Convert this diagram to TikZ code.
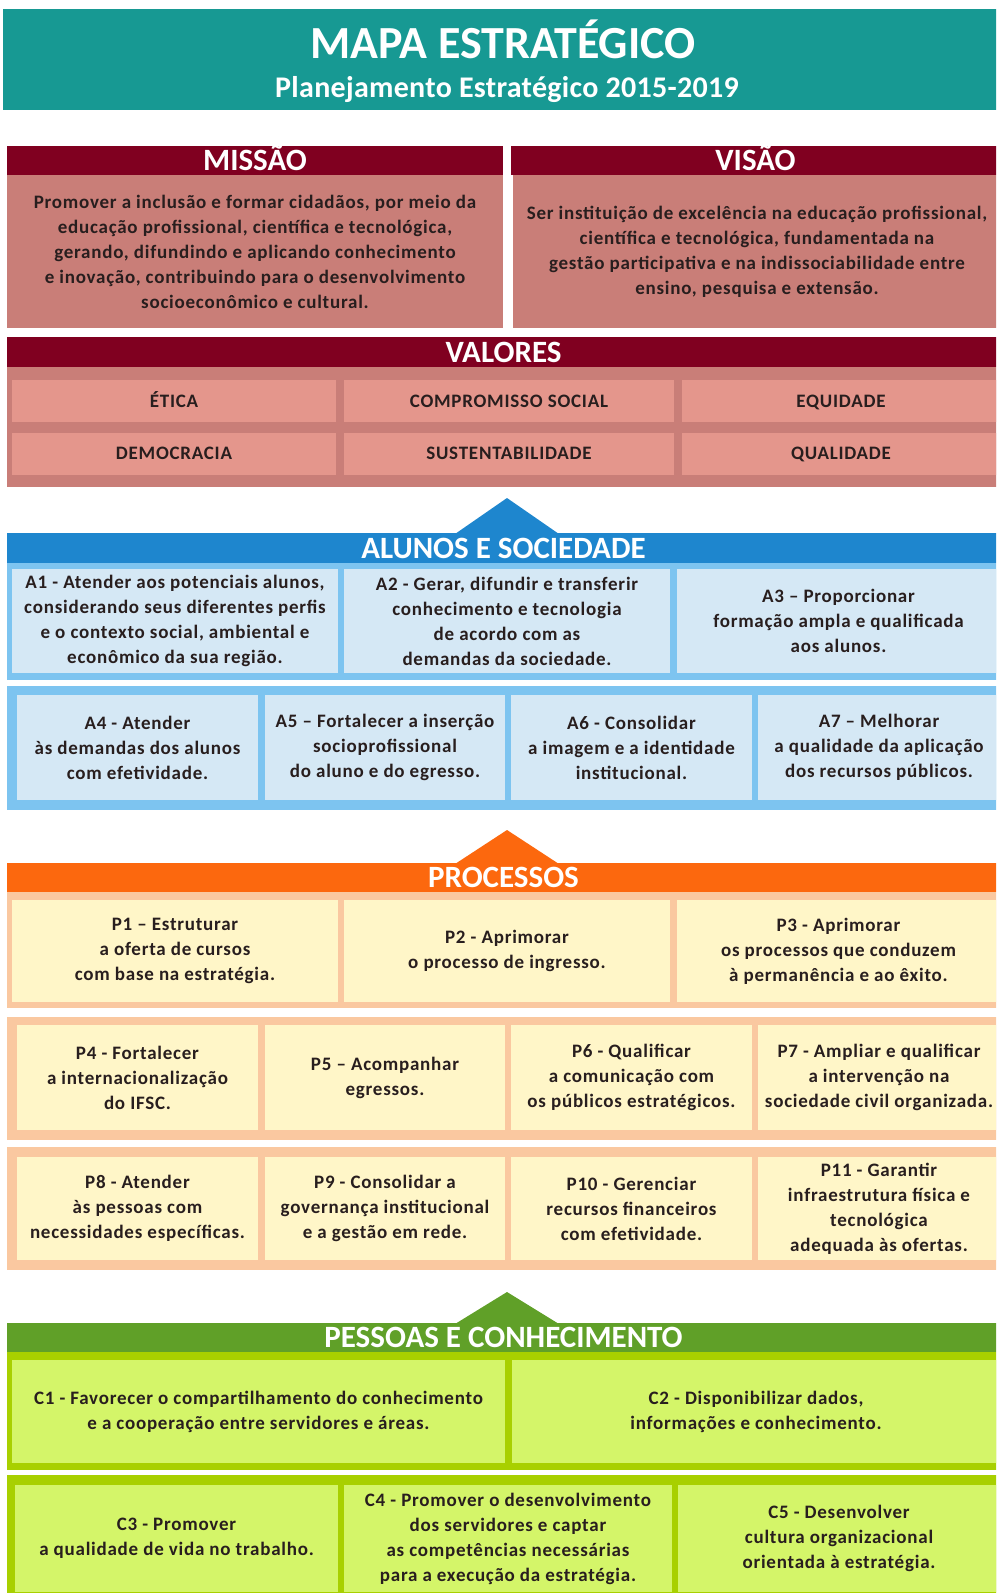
\documentclass[tikz,border=0pt]{standalone}
\usepackage{fontspec}
\setmainfont{Carlito}
\usetikzlibrary{calc}

\definecolor{teal}{RGB}{23,153,147}
\definecolor{wine}{RGB}{128,0,32}
\definecolor{rose}{RGB}{201,126,120}
\definecolor{salmon}{RGB}{228,150,140}
\definecolor{bluebar}{RGB}{30,134,206}
\definecolor{sky}{RGB}{125,196,240}
\definecolor{ice}{RGB}{213,232,245}
\definecolor{orangebar}{RGB}{252,104,14}
\definecolor{peach}{RGB}{250,200,160}
\definecolor{cream}{RGB}{255,246,200}
\definecolor{greenbar}{RGB}{96,160,40}
\definecolor{lime}{RGB}{168,208,0}
\definecolor{limecell}{RGB}{212,245,105}
\definecolor{ink}{RGB}{40,30,30}

\newcommand{\BodyFont}{\fontsize{19}{25}\selectfont\bfseries\addfontfeature{LetterSpace=4}}
\newcommand{\HeadFont}{\fontsize{31}{34}\selectfont\bfseries}

\begin{document}
\begin{tikzpicture}[x=1pt, y=-1pt, every node/.style={inner sep=0pt, outer sep=0pt, align=center}]
    \tikzset{BoxSize/.style 2 args={minimum width=#1pt, minimum height=#2pt},
      BarStyle/.style={fill=#1, text=white, font=\HeadFont, text height=20pt, text depth=0pt},
      FrameStyle/.style={fill=#1},
      CellStyle/.style={fill=#1, text=ink, font=\BodyFont},
      ValueStyle/.style={CellStyle=salmon, text height=12.2pt, text depth=0pt}}
    \useasboundingbox (0,0) rectangle (996,1593);
    \clip (0,0) rectangle (996,1593);
    \fill[white] (0,0) rectangle (996,1593);

    % cabecalho
    \node[FrameStyle=teal, BoxSize={997}{101}] (head) at (501.5,59.5) {};
    \node[text=white, font=\fontsize{46}{50}\selectfont\bfseries] (title) at (503,39) {MAPA ESTRATÉGICO};
    \node[text=white, font=\fontsize{30}{34}\selectfont\bfseries\addfontfeature{LetterSpace=1}] (subtitle) at (507,90) {Planejamento Estratégico 2015-2019};

    % missao e visao
    \node[BarStyle=wine, BoxSize={496}{29}] (missao) at (255,160.5) {MISSÃO};
    \node[CellStyle=rose, BoxSize={496}{153}] (missaoTxt) at (255,251.5) {Promover a inclusão e formar cidadãos, por meio da\\educação profissional, científica e tecnológica,\\gerando, difundindo e aplicando conhecimento\\e inovação, contribuindo para o desenvolvimento\\socioeconômico e cultural.};
    \node[BarStyle=wine, BoxSize={489}{29}] (visao) at (755.5,160.5) {VISÃO};
    \node[CellStyle=rose, BoxSize={489}{153}] (visaoTxt) at (757,251.5) {Ser instituição de excelência na educação profissional,\\científica e tecnológica, fundamentada na\\gestão participativa e na indissociabilidade entre\\ensino, pesquisa e extensão.};

    % valores
    \node[BarStyle=wine, BoxSize={993}{30}] (valores) at (503.5,352) {VALORES};
    \node[FrameStyle=rose, BoxSize={993}{120}] (valFrame) at (503.5,427) {};
    \node[ValueStyle, BoxSize={324}{42}] (V1) at (174,401) {ÉTICA};
    \node[ValueStyle, BoxSize={330}{42}] (V2) at (509,401) {COMPROMISSO SOCIAL};
    \node[ValueStyle, BoxSize={318}{42}] (V3) at (841,401) {EQUIDADE};
    \node[ValueStyle, BoxSize={324}{42}] (V4) at (174,453.5) {DEMOCRACIA};
    \node[ValueStyle, BoxSize={330}{42}] (V5) at (509,453.5) {SUSTENTABILIDADE};
    \node[ValueStyle, BoxSize={318}{42}] (V6) at (841,453.5) {QUALIDADE};

    % alunos e sociedade
    \fill[bluebar] (507,498) -- (455,534) -- (559,534) -- cycle;
    \node[BarStyle=bluebar, BoxSize={993}{30}] (alunos) at (503.5,548) {ALUNOS E SOCIEDADE};
    \node[FrameStyle=sky, BoxSize={993}{117}] (aFrame1) at (503.5,621.5) {};
    \node[FrameStyle=sky, BoxSize={993}{124}] (aFrame2) at (503.5,748) {};
    \node[CellStyle=ice, BoxSize={326}{104}] (A1) at (175,621) {A1 - Atender aos potenciais alunos,\\considerando seus diferentes perfis\\e o contexto social, ambiental e\\econômico da sua região.};
    \node[CellStyle=ice, BoxSize={326}{104}] (A2) at (507,621) {A2 - Gerar, difundir e transferir\\conhecimento e tecnologia\\de acordo com as\\demandas da sociedade.};
    \node[CellStyle=ice, BoxSize={323}{104}] (A3) at (838.5,621) {A3 – Proporcionar\\formação ampla e qualificada\\aos alunos.};
    \node[CellStyle=ice, BoxSize={241}{105}] (A4) at (137.5,747.5) {A4 - Atender\\às demandas dos alunos\\com efetividade.};
    \node[CellStyle=ice, BoxSize={240}{105}] (A5) at (385,747.5) {A5 – Fortalecer a inserção\\socioprofissional\\do aluno e do egresso.};
    \node[CellStyle=ice, BoxSize={241}{105}] (A6) at (631.5,747.5) {A6 - Consolidar\\a imagem e a identidade\\institucional.};
    \node[CellStyle=ice, BoxSize={242}{105}] (A7) at (879,747.5) {A7 – Melhorar\\a qualidade da aplicação\\dos recursos públicos.};

    % processos
    \fill[orangebar] (507,830) -- (455,864) -- (559,864) -- cycle;
    \node[BarStyle=orangebar, BoxSize={993}{29}] (processos) at (503.5,877.5) {PROCESSOS};
    \node[FrameStyle=peach, BoxSize={993}{116}] (pFrame1) at (503.5,950) {};
    \node[FrameStyle=peach, BoxSize={993}{123}] (pFrame2) at (503.5,1078.5) {};
    \node[FrameStyle=peach, BoxSize={993}{123}] (pFrame3) at (503.5,1208.5) {};
    \node[CellStyle=cream, BoxSize={326}{102}] (P1) at (175,951) {P1 – Estruturar\\a oferta de cursos\\com base na estratégia.};
    \node[CellStyle=cream, BoxSize={326}{102}] (P2) at (507,951) {P2 - Aprimorar\\o processo de ingresso.};
    \node[CellStyle=cream, BoxSize={323}{102}] (P3) at (838.5,951) {P3 - Aprimorar\\os processos que conduzem\\à permanência e ao êxito.};
    \node[CellStyle=cream, BoxSize={241}{105}] (P4) at (137.5,1077.5) {P4 - Fortalecer\\a internacionalização\\do IFSC.};
    \node[CellStyle=cream, BoxSize={240}{105}] (P5) at (385,1077.5) {P5 – Acompanhar\\egressos.};
    \node[CellStyle=cream, BoxSize={241}{105}] (P6) at (631.5,1077.5) {P6 - Qualificar\\a comunicação com\\os públicos estratégicos.};
    \node[CellStyle=cream, BoxSize={242}{105}] (P7) at (879,1077.5) {P7 - Ampliar e qualificar\\a intervenção na\\sociedade civil organizada.};
    \node[CellStyle=cream, BoxSize={241}{103}] (P8) at (137.5,1208.5) {P8 - Atender\\às pessoas com\\necessidades específicas.};
    \node[CellStyle=cream, BoxSize={240}{103}] (P9) at (385,1208.5) {P9 - Consolidar a\\governança institucional\\e a gestão em rede.};
    \node[CellStyle=cream, BoxSize={241}{103}] (P10) at (631.5,1208.5) {P10 - Gerenciar\\recursos financeiros\\com efetividade.};
    \node[CellStyle=cream, BoxSize={242}{103}] (P11) at (879,1208.5) {P11 - Garantir\\infraestrutura física e\\tecnológica\\adequada às ofertas.};

    % pessoas e conhecimento
    \fill[greenbar] (507,1292) -- (455,1324) -- (559,1324) -- cycle;
    \node[BarStyle=greenbar, BoxSize={993}{29}] (pessoas) at (503.5,1337.5) {PESSOAS E CONHECIMENTO};
    \node[FrameStyle=lime, BoxSize={993}{118}] (cFrame1) at (503.5,1411) {};
    \node[FrameStyle=lime, BoxSize={993}{125}] (cFrame2) at (503.5,1537.5) {};
    \node[CellStyle=limecell, BoxSize={493}{103}] (C1) at (258.5,1411.5) {C1 - Favorecer o compartilhamento do conhecimento\\e a cooperação entre servidores e áreas.};
    \node[CellStyle=limecell, BoxSize={488}{103}] (C2) at (756,1411.5) {C2 - Disponibilizar dados,\\informações e conhecimento.};
    \node[CellStyle=limecell, BoxSize={323}{107}] (C3) at (176.5,1538.5) {C3 - Promover\\a qualidade de vida no trabalho.};
    \node[CellStyle=limecell, BoxSize={328}{107}] (C4) at (508,1538.5) {C4 - Promover o desenvolvimento\\dos servidores e captar\\as competências necessárias\\para a execução da estratégia.};
    \node[CellStyle=limecell, BoxSize={322}{107}] (C5) at (839,1538.5) {C5 - Desenvolver\\cultura organizacional\\orientada à estratégia.};
\end{tikzpicture}
\end{document}
